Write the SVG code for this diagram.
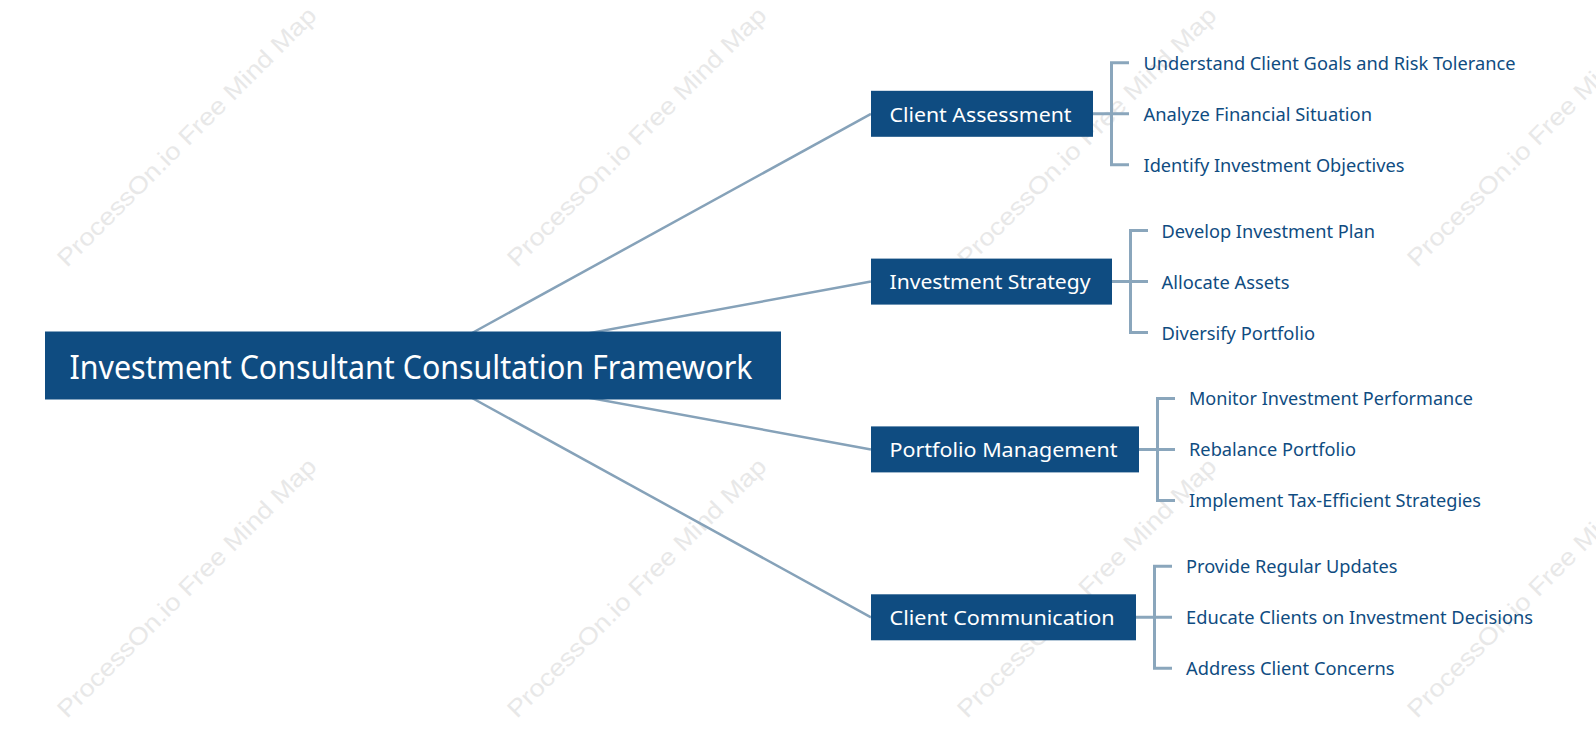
<svg xmlns="http://www.w3.org/2000/svg" width="1596" height="747" viewBox="0 0 1596 747">
<style>
.bg{fill:#ffffff}
.wm{font-family:"Liberation Sans",Arial,sans-serif;font-size:24px;fill:#e8e8e8}
.link{stroke:#86a2b9;stroke-width:2.5;fill:none}
.br{stroke:#8aa6bc;stroke-width:3;fill:none;stroke-linejoin:miter}
.root{fill:#0f4c81}
.box{fill:#0f4c81}
.rt{font-family:"Noto Sans","Open Sans",sans-serif;font-size:32px;fill:#ffffff}
.ct{font-family:"Noto Sans","Open Sans",sans-serif;font-size:20px;fill:#ffffff}
.lt{font-family:"Noto Sans","Open Sans",sans-serif;font-size:18px;fill:#0f4c81}
</style>
<rect class="bg" x="0" y="0" width="1596" height="747"/>
<g id="watermarks">
<text class="wm" x="67" y="268" transform="rotate(-45 67 268)" textLength="355" lengthAdjust="spacingAndGlyphs">ProcessOn.io Free Mind Map</text>
<text class="wm" x="517" y="268" transform="rotate(-45 517 268)" textLength="355" lengthAdjust="spacingAndGlyphs">ProcessOn.io Free Mind Map</text>
<text class="wm" x="967" y="268" transform="rotate(-45 967 268)" textLength="355" lengthAdjust="spacingAndGlyphs">ProcessOn.io Free Mind Map</text>
<text class="wm" x="1417" y="268" transform="rotate(-45 1417 268)" textLength="355" lengthAdjust="spacingAndGlyphs">ProcessOn.io Free Mind Map</text>
<text class="wm" x="67" y="719" transform="rotate(-45 67 719)" textLength="355" lengthAdjust="spacingAndGlyphs">ProcessOn.io Free Mind Map</text>
<text class="wm" x="517" y="719" transform="rotate(-45 517 719)" textLength="355" lengthAdjust="spacingAndGlyphs">ProcessOn.io Free Mind Map</text>
<text class="wm" x="967" y="719" transform="rotate(-45 967 719)" textLength="355" lengthAdjust="spacingAndGlyphs">ProcessOn.io Free Mind Map</text>
<text class="wm" x="1417" y="719" transform="rotate(-45 1417 719)" textLength="355" lengthAdjust="spacingAndGlyphs">ProcessOn.io Free Mind Map</text>
</g>
<g id="connectors">
<line class="link" x1="413" y1="365.5" x2="871" y2="113.8"/>
<line class="link" x1="413" y1="365.5" x2="871" y2="281.6"/>
<line class="link" x1="413" y1="365.5" x2="871" y2="449.4"/>
<line class="link" x1="413" y1="365.5" x2="871" y2="617.3"/>
<line class="br" x1="1093" y1="113.8" x2="1129" y2="113.8"/>
<path class="br" d="M1129 62.8 H1111.5 V164.8 H1129"/>
<line class="br" x1="1112" y1="281.6" x2="1148" y2="281.6"/>
<path class="br" d="M1148 230.6 H1130.5 V332.6 H1148"/>
<line class="br" x1="1139" y1="449.4" x2="1175" y2="449.4"/>
<path class="br" d="M1175 398.4 H1157.5 V500.4 H1175"/>
<line class="br" x1="1136" y1="617.3" x2="1172" y2="617.3"/>
<path class="br" d="M1172 566.3 H1154.5 V668.3 H1172"/>
</g>
<g id="root">
<rect class="root" x="45" y="331.5" width="736" height="68"/>
<text class="rt" x="69.5" y="379" textLength="683" lengthAdjust="spacingAndGlyphs">Investment Consultant Consultation Framework</text>
</g>
<g id="client-assessment">
<rect class="box" x="871" y="90.8" width="222" height="46"/>
<text class="ct" x="889.5" y="121.5" textLength="182" lengthAdjust="spacingAndGlyphs">Client Assessment</text>
</g>
<g id="investment-strategy">
<rect class="box" x="871" y="258.6" width="241" height="46"/>
<text class="ct" x="889.5" y="289.3" textLength="201" lengthAdjust="spacingAndGlyphs">Investment Strategy</text>
</g>
<g id="portfolio-management">
<rect class="box" x="871" y="426.4" width="268" height="46"/>
<text class="ct" x="889.5" y="457.1" textLength="228" lengthAdjust="spacingAndGlyphs">Portfolio Management</text>
</g>
<g id="client-communication">
<rect class="box" x="871" y="594.3" width="265" height="46"/>
<text class="ct" x="889.5" y="625" textLength="225" lengthAdjust="spacingAndGlyphs">Client Communication</text>
</g>
<g id="leaf-ca-1"><text class="lt" x="1143.5" y="69.8" textLength="372" lengthAdjust="spacingAndGlyphs">Understand Client Goals and Risk Tolerance</text></g>
<g id="leaf-ca-2"><text class="lt" x="1143.5" y="120.8" textLength="228.5" lengthAdjust="spacingAndGlyphs">Analyze Financial Situation</text></g>
<g id="leaf-ca-3"><text class="lt" x="1143.5" y="171.8" textLength="261" lengthAdjust="spacingAndGlyphs">Identify Investment Objectives</text></g>
<g id="leaf-is-1"><text class="lt" x="1161.5" y="237.6" textLength="213.5" lengthAdjust="spacingAndGlyphs">Develop Investment Plan</text></g>
<g id="leaf-is-2"><text class="lt" x="1161.5" y="288.6" textLength="128" lengthAdjust="spacingAndGlyphs">Allocate Assets</text></g>
<g id="leaf-is-3"><text class="lt" x="1161.5" y="339.6" textLength="153.5" lengthAdjust="spacingAndGlyphs">Diversify Portfolio</text></g>
<g id="leaf-pm-1"><text class="lt" x="1189" y="405.4" textLength="284" lengthAdjust="spacingAndGlyphs">Monitor Investment Performance</text></g>
<g id="leaf-pm-2"><text class="lt" x="1189" y="456.4" textLength="167" lengthAdjust="spacingAndGlyphs">Rebalance Portfolio</text></g>
<g id="leaf-pm-3"><text class="lt" x="1189" y="507.4" textLength="292" lengthAdjust="spacingAndGlyphs">Implement Tax-Efficient Strategies</text></g>
<g id="leaf-cc-1"><text class="lt" x="1186" y="573.3" textLength="211.5" lengthAdjust="spacingAndGlyphs">Provide Regular Updates</text></g>
<g id="leaf-cc-2"><text class="lt" x="1186" y="624.3" textLength="347" lengthAdjust="spacingAndGlyphs">Educate Clients on Investment Decisions</text></g>
<g id="leaf-cc-3"><text class="lt" x="1186" y="675.3" textLength="208.5" lengthAdjust="spacingAndGlyphs">Address Client Concerns</text></g>
</svg>
